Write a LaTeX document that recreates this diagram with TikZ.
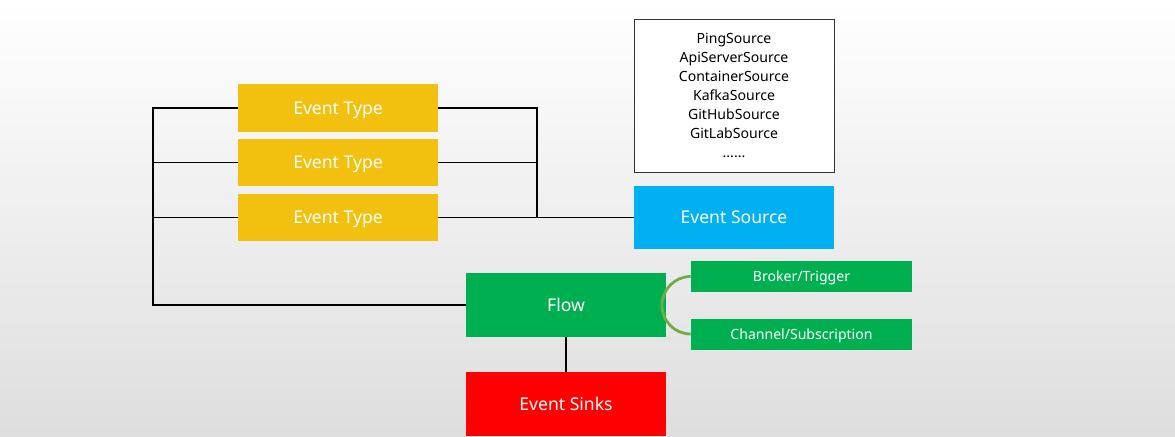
\documentclass[tikz,border=0pt]{standalone}
\usepackage{fontspec}
\setmainfont{Noto Sans}
\usetikzlibrary{positioning}
\definecolor{typeyellow}{RGB}{242,192,14}
\definecolor{srcblue}{RGB}{0,176,240}
\definecolor{flowgreen}{RGB}{0,176,80}
\definecolor{sinkred}{RGB}{255,0,0}
\definecolor{arcgreen}{RGB}{112,173,71}
\tikzset{
  blockbox/.style={rectangle, inner sep=0pt, minimum width=4cm, minimum height=0.96cm,
                   text depth=0pt, fill=#1, text=white, font=\fontsize{10}{12}\selectfont},
  subbox/.style={rectangle, inner sep=0pt, minimum width=4.42cm, minimum height=0.62cm,
                 text depth=0pt, fill=flowgreen, text=white, font=\fontsize{8}{10}\selectfont},
  listbox/.style={rectangle, inner sep=0pt, minimum width=4cm, minimum height=3.06cm,
                  draw=black!80, fill=white, align=center, font=\fontsize{8}{10.8}\selectfont},
  bus/.style={draw=black, line width=0.8pt},
}

\begin{document}
\begin{tikzpicture}[x=0.02cm, y=-0.02cm]
  \useasboundingbox (0,0) rectangle (1175,436);
  \shade[top color=white, bottom color=black!13] (0,0) rectangle (1175,436);

  % event types
  \node[blockbox=typeyellow] (type1) at (338,108) {Event Type};
  \node[blockbox=typeyellow] (type2) at (338,162.5) {Event Type};
  \node[blockbox=typeyellow] (type3) at (338,217.5) {Event Type};

  % sources
  \node[listbox] (sources) at (734,95.5) {PingSource\\ApiServerSource\\ContainerSource\\KafkaSource\\GitHubSource\\GitLabSource\\......};
  \node[blockbox=srcblue, minimum height=1.28cm] (source) at (734,217.5) {Event Source};

  % flow and sinks
  \node[blockbox=flowgreen, minimum height=1.28cm] (flow) at (566,305) {Flow};
  \node[blockbox=sinkred, minimum height=1.28cm] (sinks) at (566,404) {Event Sinks};
  \node[subbox] (broker) at (801.5,276.5) {Broker/Trigger};
  \node[subbox] (channel) at (801.5,334) {Channel/Subscription};

  % buses
  \coordinate (leftbus) at (153,0);
  \coordinate (rightbus) at (537,0);
  \draw[bus] (type1.west) -| (leftbus |- flow.west) -- (flow.west);
  \draw[bus] (type2.west) -- (type2.west -| leftbus);
  \draw[bus] (type3.west) -- (type3.west -| leftbus);
  \draw[bus] (type1.east) -| (rightbus |- type3.east);
  \draw[bus] (type2.east) -- (type2.east -| rightbus);
  \draw[bus] (type3.east) -- (source.west);
  \draw[bus] (flow.south) -- (sinks.north);

  \draw[arcgreen, line width=1.6pt] (broker.west) arc[start angle=90, end angle=270, radius=0.575cm];
\end{tikzpicture}
\end{document}
